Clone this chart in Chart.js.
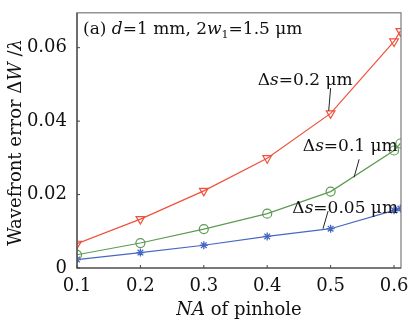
<!DOCTYPE html>
<html lang="en">
<head>
<meta charset="UTF-8">
<title>Wavefront error vs NA</title>
<style>
  html, body { margin: 0; padding: 0; background: #fff; }
  #wrap { width: 410px; height: 325px; }
</style>
</head>
<body>
<div id="wrap"><canvas id="myChart" width="410" height="325"></canvas></div>
<script src="https://cdn.jsdelivr.net/npm/chart.js"></script>
<script>
// data
const naValues = [0.1, 0.2, 0.3, 0.4, 0.5, 0.6, 0.61]
const err02 = [0.0066, 0.0133, 0.0210, 0.0299, 0.0421, 0.0617, 0.0645]
const err01 = [0.0036, 0.0068, 0.0106, 0.0148, 0.0208, 0.0320, 0.0339]
const err005 = [0.0023, 0.0042, 0.0062, 0.0086, 0.0107, 0.0157, 0.0162]
const xTicks = [0.1, 0.2, 0.3, 0.4, 0.5, 0.6]
const yTicks = [0, 0.02, 0.04, 0.06]
const xTickLabels = ['0.1', '0.2', '0.3', '0.4', '0.5', '0.6']
const yTickLabels = ['0', '0.02', '0.04', '0.06']

const serif = '"DejaVu Serif", "Liberation Serif", serif'
const red = '#f0513c'
const green = '#5e9a52'
const blue = '#4667c4'

function pts(ys) {
  return naValues.map((x, i) => ({ x: x, y: ys[i] }))
}

// draw a run of text pieces: [text, italic, subscript]
function richText(ctx, parts, x, y, size, align) {
  let total = 0
  parts.forEach(p => {
    ctx.font = (p[1] ? 'italic ' : '') + (p[2] ? size * 0.65 : size) + 'px ' + serif
    total += ctx.measureText(p[0]).width
  })
  let cx = align === 'center' ? x - total / 2 : x
  ctx.textBaseline = 'alphabetic'
  ctx.textAlign = 'left'
  parts.forEach(p => {
    ctx.font = (p[1] ? 'italic ' : '') + (p[2] ? size * 0.65 : size) + 'px ' + serif
    ctx.fillText(p[0], cx, p[2] ? y + size * 0.25 : y)
    cx += ctx.measureText(p[0]).width
  })
}

const decor = {
  id: 'decor',
  afterDatasetsDraw(chart) {
    const ctx = chart.ctx
    const a = chart.chartArea
    const xs = chart.scales.x
    const ys = chart.scales.y
    ctx.save()
    // frame
    ctx.strokeStyle = '#7a7a7a'
    ctx.lineWidth = 1.2
    ctx.strokeRect(a.left, a.top, a.right - a.left, a.bottom - a.top)
    ctx.strokeStyle = '#444'
    ctx.beginPath()
    ctx.moveTo(a.left, a.top); ctx.lineTo(a.left, a.bottom); ctx.lineTo(a.right, a.bottom)
    ctx.stroke()
    // inward ticks
    ctx.lineWidth = 1
    ctx.beginPath()
    xTicks.forEach(v => {
      const px = xs.getPixelForValue(v)
      ctx.moveTo(px, a.bottom); ctx.lineTo(px, a.bottom - 3)
    })
    yTicks.forEach(v => {
      const py = ys.getPixelForValue(v)
      ctx.moveTo(a.left, py); ctx.lineTo(a.left + 3, py)
    })
    ctx.stroke()

    ctx.fillStyle = '#111'
    // panel label
    richText(ctx, [['(a) ', false], ['d', true], ['=1 mm, 2', false], ['w', true], ['1', false, true], ['=1.5 μm', false]],
      a.left + 6, a.top + 21, 17, 'left')
    // series labels with leader lines
    const notes = [
      { t: '0.2', x: 0.460, y: 0.0515, lx: [0.500, 0.497], ly: [0.0490, 0.0428] },
      { t: '0.1', x: 0.531, y: 0.0335, lx: [0.545, 0.537], ly: [0.0296, 0.0247] },
      { t: '0.05', x: 0.523, y: 0.0165, lx: [0.496, 0.488], ly: [0.0155, 0.0107] }
    ]
    notes.forEach(n => {
      const px = xs.getPixelForValue(n.x)
      const py = ys.getPixelForValue(n.y)
      richText(ctx, [['Δ', false], ['s', true], ['=' + n.t + ' μm', false]], px, py + 6, 17, 'center')
      ctx.strokeStyle = '#222'
      ctx.beginPath()
      ctx.moveTo(xs.getPixelForValue(n.lx[0]), ys.getPixelForValue(n.ly[0]))
      ctx.lineTo(xs.getPixelForValue(n.lx[1]), ys.getPixelForValue(n.ly[1]))
      ctx.stroke()
    })
    // axis titles
    richText(ctx, [['NA', true], [' of pinhole', false]], (a.left + a.right) / 2, 315, 18, 'center')
    ctx.translate(21, (a.top + a.bottom) / 2 + 2)
    ctx.rotate(-Math.PI / 2)
    richText(ctx, [['Wavefront error Δ', false], ['W', true], [' /', false], ['λ', true]], 0, 0, 18, 'center')
    ctx.restore()
  }
}

const ctx = document.getElementById('myChart')
new Chart(ctx, {
  type: 'line',
  data: {
    datasets: [
      {
        label: 'Δs=0.2 μm', data: pts(err02), borderColor: red, backgroundColor: 'rgba(0,0,0,0)',
        pointStyle: 'triangle', rotation: 180, pointRadius: 5, pointBorderColor: red, borderWidth: 1.2, pointBorderWidth: 1.2
      },
      {
        label: 'Δs=0.1 μm', data: pts(err01), borderColor: green, backgroundColor: 'rgba(0,0,0,0)',
        pointStyle: 'circle', pointRadius: 4.5, pointBorderColor: green, borderWidth: 1.2, pointBorderWidth: 1.2
      },
      {
        label: 'Δs=0.05 μm', data: pts(err005), borderColor: blue, backgroundColor: blue,
        pointStyle: 'star', pointRadius: 4, pointBorderColor: blue, borderWidth: 1.2, pointBorderWidth: 1.3
      }
    ]
  },
  options: {
    responsive: false,
    animation: false,
    layout: { padding: { top: 7, right: 9, left: 0, bottom: 0 } },
    plugins: { legend: { display: false }, tooltip: { enabled: false } },
    scales: {
      x: {
        type: 'linear', min: 0.1, max: 0.611,
        afterBuildTicks: s => { s.ticks = xTicks.map(v => ({ value: v })) },
        afterFit: s => { s.height = 57 },
        grid: { display: false }, border: { display: false },
        ticks: {
          color: '#111', padding: 0, maxRotation: 0,
          font: { family: serif, size: 18 },
          callback: (v, i) => xTickLabels[i]
        }
      },
      y: {
        type: 'linear', min: 0, max: 0.0695,
        afterBuildTicks: s => { s.ticks = yTicks.map(v => ({ value: v })) },
        afterFit: s => { s.width = 77 },
        grid: { display: false }, border: { display: false },
        ticks: {
          color: '#111', padding: 2,
          font: { family: serif, size: 18 },
          callback: (v, i) => yTickLabels[i]
        }
      }
    }
  },
  plugins: [decor]
})
</script>
</body>
</html>
